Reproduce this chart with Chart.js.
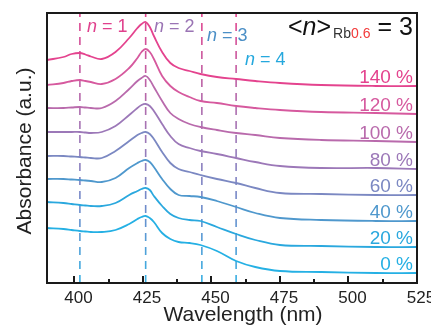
<!DOCTYPE html>
<html>
<head>
<meta charset="utf-8">
<script src="https://cdn.jsdelivr.net/npm/chart.js@4.4.1/dist/chart.umd.min.js"></script>
<style>
  html, body { margin: 0; padding: 0; background: #fff; }
  canvas { display: block; }
</style>
</head>
<body>
<canvas id="absChart" width="431" height="325"></canvas>
<script>
// wavelength grid (nm) shared by all spectra
const wavelengths = [390, 396, 399, 402, 404, 406, 410, 415, 420, 423, 424.5, 426, 427.5, 429, 432, 435, 438, 442, 446, 452, 459, 466, 475, 490, 510, 525];

// offset absorbance spectra (a.u.), one per Rb excess
const abs140 = [2.23, 2.26, 2.29, 2.30, 2.285, 2.265, 2.24, 2.31, 2.45, 2.55, 2.59, 2.61, 2.56, 2.47, 2.31, 2.20, 2.15, 2.12, 2.09, 2.06, 2.04, 2.02, 2.00, 1.98, 1.97, 1.97];
const abs120 = [1.98, 2.00, 2.02, 2.03, 2.02, 2.01, 1.99, 2.04, 2.15, 2.25, 2.31, 2.34, 2.31, 2.24, 2.07, 1.97, 1.91, 1.86, 1.82, 1.80, 1.77, 1.75, 1.73, 1.71, 1.70, 1.69];
const abs100 = [1.75, 1.75, 1.755, 1.76, 1.755, 1.75, 1.75, 1.82, 1.94, 2.02, 2.05, 2.07, 2.03, 1.96, 1.82, 1.70, 1.64, 1.59, 1.56, 1.53, 1.50, 1.48, 1.45, 1.43, 1.42, 1.41];
const abs80 = [1.51, 1.51, 1.51, 1.51, 1.505, 1.50, 1.51, 1.57, 1.68, 1.75, 1.78, 1.79, 1.77, 1.72, 1.59, 1.47, 1.39, 1.35, 1.32, 1.29, 1.25, 1.21, 1.17, 1.15, 1.15, 1.14];
const abs60 = [1.27, 1.27, 1.265, 1.26, 1.255, 1.25, 1.25, 1.32, 1.42, 1.48, 1.50, 1.51, 1.49, 1.44, 1.31, 1.20, 1.14, 1.11, 1.08, 1.04, 1.00, 0.95, 0.90, 0.89, 0.88, 0.88];
const abs40 = [1.04, 1.04, 1.035, 1.03, 1.025, 1.02, 1.01, 1.05, 1.15, 1.20, 1.22, 1.23, 1.21, 1.16, 1.04, 0.94, 0.88, 0.87, 0.86, 0.82, 0.76, 0.70, 0.65, 0.63, 0.62, 0.62];
const abs20 = [0.81, 0.80, 0.79, 0.78, 0.775, 0.77, 0.77, 0.80, 0.88, 0.92, 0.94, 0.95, 0.93, 0.87, 0.77, 0.69, 0.65, 0.63, 0.62, 0.56, 0.49, 0.43, 0.38, 0.37, 0.36, 0.36];
const abs0 = [0.55, 0.54, 0.53, 0.52, 0.515, 0.51, 0.51, 0.53, 0.59, 0.64, 0.66, 0.67, 0.65, 0.61, 0.50, 0.44, 0.41, 0.40, 0.38, 0.32, 0.22, 0.16, 0.12, 0.11, 0.10, 0.10];

const seriesLabels = ["140 %", "120 %", "100 %", "80 %", "60 %", "40 %", "20 %", "0 %"];
const seriesValues = [abs140, abs120, abs100, abs80, abs60, abs40, abs20, abs0];
const seriesColors = ["#e4438e", "#d6599e", "#b96aac", "#9c78b8", "#7b88c2", "#4f98cd", "#2aa8de", "#25b0e4"];

// n-phase exciton positions (nm)
const phaseNames = ["1", "2", "3", "4"];
const phasePositions = [402, 426, 446.5, 459];
const phaseColors = ["#e0418d", "#9a74b4", "#4b8fc6", "#25a8dd"];

// axis ticks
const tickLabels = [400, 425, 450, 475, 500, 525];
const minorTicks = [412.5, 437.5, 462.5, 487.5, 512.5];

const yMax = 2.7;
const FONT = "'Liberation Sans', Arial, Helvetica, sans-serif";

function dashGradient(context) {
  const area = context.chart.chartArea;
  if (!area) return "#9a74b4";
  const g = context.chart.ctx.createLinearGradient(0, area.top, 0, area.bottom);
  g.addColorStop(0, "#e2448f");
  g.addColorStop(0.45, "#a177b6");
  g.addColorStop(0.72, "#6f8ccb");
  g.addColorStop(1, "#36b0e3");
  return g;
}

const datasets = [];
phasePositions.forEach((wl) => {
  datasets.push({
    data: [{ x: wl, y: 0 }, { x: wl, y: yMax }],
    borderColor: dashGradient,
    borderWidth: 1.6,
    borderDash: [8, 6],
    pointRadius: 0,
    order: 2,
  });
});
seriesValues.forEach((vals, i) => {
  datasets.push({
    label: seriesLabels[i],
    data: wavelengths.map((wl, k) => ({ x: wl, y: vals[k] })),
    borderColor: seriesColors[i],
    borderWidth: 1.8,
    pointRadius: 0,
    tension: 0.4,
    order: 1,
  });
});

// draws text made of styled pieces along one baseline
function drawRuns(ctx, x, y, runs) {
  let cx = x;
  runs.forEach((r) => {
    ctx.font = r.font;
    ctx.fillStyle = r.color;
    ctx.fillText(r.text, cx, y + (r.dy || 0));
    cx += ctx.measureText(r.text).width + (r.gap || 0);
  });
}

const decorations = {
  id: "decorations",
  afterDraw(chart) {
    const { ctx, chartArea: a } = chart;
    const xs = chart.scales.x;
    const ys = chart.scales.y;
    ctx.save();

    // frame
    ctx.strokeStyle = "#1a1a1a";
    ctx.lineWidth = 2;
    ctx.strokeRect(a.left, a.top, a.right - a.left, a.bottom - a.top);

    // inward ticks on the bottom axis
    ctx.lineWidth = 2;
    tickLabels.forEach((v) => {
      const px = Math.round(xs.getPixelForValue(v));
      ctx.beginPath();
      ctx.moveTo(px, a.bottom);
      ctx.lineTo(px, a.bottom - 7);
      ctx.stroke();
    });
    minorTicks.forEach((v) => {
      const px = Math.round(xs.getPixelForValue(v));
      ctx.beginPath();
      ctx.moveTo(px, a.bottom);
      ctx.lineTo(px, a.bottom - 4);
      ctx.stroke();
    });

    // tick labels
    ctx.fillStyle = "#222";
    ctx.font = "17px " + FONT;
    ctx.textAlign = "center";
    ctx.textBaseline = "alphabetic";
    tickLabels.forEach((v) => {
      ctx.fillText(String(v), xs.getPixelForValue(v) + 4, 303);
    });

    // axis titles
    ctx.font = "21px " + FONT;
    ctx.fillText("Wavelength (nm)", 243, 321);
    ctx.save();
    ctx.translate(31, 151);
    ctx.rotate(-Math.PI / 2);
    ctx.fillText("Absorbance (a.u.)", 0, 0);
    ctx.restore();

    // percentage labels sit just above each spectrum's tail
    ctx.textAlign = "right";
    ctx.font = "19px " + FONT;
    seriesValues.forEach((vals, i) => {
      const yPx = ys.getPixelForValue(vals[vals.length - 1]);
      ctx.fillStyle = seriesColors[i];
      ctx.fillText(seriesLabels[i], 413, yPx - 3);
    });

    // n = 1..4 phase labels
    ctx.textAlign = "left";
    const phaseLabelPos = [[87, 32], [154, 32], [207, 41], [245, 65]];
    phaseNames.forEach((name, i) => {
      const [lx, ly] = phaseLabelPos[i];
      drawRuns(ctx, lx, ly, [
        { text: "n", font: "italic 18px " + FONT, color: phaseColors[i] },
        { text: " = " + name, font: "18px " + FONT, color: phaseColors[i] },
      ]);
    });

    // <n>_Rb0.6 = 3
    drawRuns(ctx, 288, 35, [
      { text: "<", font: "25px " + FONT, color: "#111" },
      { text: "n", font: "italic 25px " + FONT, color: "#111" },
      { text: ">", font: "25px " + FONT, color: "#111", gap: 2 },
      { text: "Rb", font: "14px " + FONT, color: "#333", dy: 3 },
      { text: "0.6", font: "14px " + FONT, color: "#f23a3a", dy: 3 },
      { text: " = 3", font: "25px " + FONT, color: "#111" },
    ]);

    ctx.restore();
  },
};

new Chart(document.getElementById("absChart"), {
  type: "line",
  data: { datasets: datasets },
  options: {
    responsive: false,
    animation: false,
    devicePixelRatio: 1,
    layout: { padding: { left: 47, right: 14, top: 13, bottom: 42 } },
    scales: {
      x: { type: "linear", min: 390, max: 525, display: false },
      y: { type: "linear", min: 0, max: yMax, display: false },
    },
    plugins: {
      legend: { display: false },
      tooltip: { enabled: false },
    },
  },
  plugins: [decorations],
});
</script>
</body>
</html>
